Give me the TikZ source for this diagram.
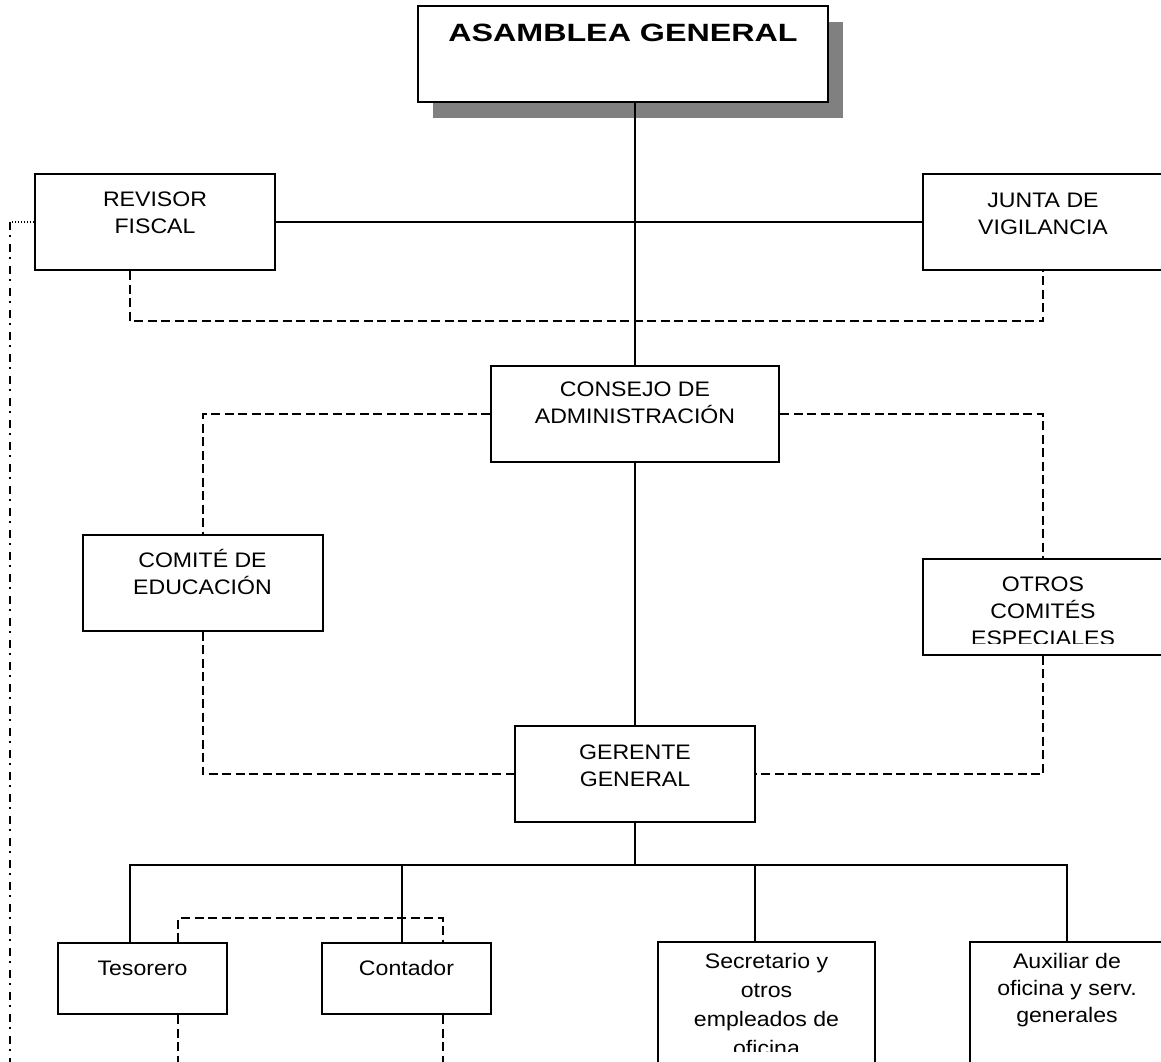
\documentclass[tikz,border=0pt]{standalone}
\usepackage{fontspec}
\setmainfont[FakeStretch=1.1]{Liberation Sans}
\newfontfamily\titlefont[FakeStretch=1.29]{Liberation Sans}
\usetikzlibrary{shadows}

\begin{document}
\begin{tikzpicture}[x=0.5pt,y=-0.5pt,
	org box/.style={draw, line width=1pt, fill=white, inner sep=0pt, minimum width=120pt, minimum height=48pt},
	org text/.style={anchor=base, align=center, inner sep=0pt, font=\fontsize{10.5pt}{13.5pt}\selectfont},
	solid line/.style={line width=1pt},
	dash line/.style={line width=1pt, dash pattern=on 4.5pt off 2.25pt},
	dot line/.style={line width=1pt, dash pattern=on 0.5pt off 1pt},
	dashdot line/.style={line width=1pt, dash pattern=on 4pt off 2.5pt on 1pt off 3.5pt}]
			\clip (0,0) rectangle (1161,1061);
			% Nodes
			\node[org box, minimum width=205pt, drop shadow={shadow xshift=7.5pt, shadow yshift=-8pt, fill=gray, opacity=1}] (asam) at (623,54) {};
			\node[org box] (rev) at (155,222) {};
			\node[org box] (junta) at (1043,222) {};
			\node[org box, minimum width=144pt] (consejo) at (635,414) {};
			\node[org box] (educ) at (202.5,582.5) {};
			\node[org box] (otros) at (1043,606.5) {};
			\node[org box] (gerente) at (635,774) {};
			\node[org box, minimum width=84.5pt, minimum height=35.5pt] (teso) at (142.5,978.5) {};
			\node[org box, minimum width=84.5pt, minimum height=35.5pt] (conta) at (406.5,978.5) {};
			\node[org box, minimum width=108.5pt, minimum height=64pt] (secre) at (766.5,1006) {};
			\node[org box, minimum width=97pt, minimum height=64pt] (aux) at (1067,1006) {};
			
			% Texts (anchored on the last line)
			\node[org text, font=\titlefont\bfseries\fontsize{12.5pt}{15pt}\selectfont] (asamT) at ([yshift=-18pt]asam.north) {ASAMBLEA GENERAL};
			\node[org text] (revT) at ([yshift=-30pt]rev.north) {REVISOR\\FISCAL};
			\node[org text] (juntaT) at ([yshift=-30.5pt]junta.north) {JUNTA DE\\VIGILANCIA};
			\node[org text] (consejoT) at ([yshift=-29pt]consejo.north) {CONSEJO DE\\ADMINISTRACIÓN};
			\node[org text] (educT) at ([yshift=-30.5pt]educ.north) {COMITÉ DE\\EDUCACIÓN};
			\begin{scope}
				\clip (otros.north west) rectangle ([yshift=6pt]otros.south east);
				\node[org text] (otrosT) at ([yshift=-44pt]otros.north) {OTROS\\COMITÉS\\ESPECIALES};
			\end{scope}
			\node[org text] (gerenteT) at ([yshift=-30.5pt]gerente.north) {GERENTE\\GENERAL};
			\node[org text] (tesoT) at ([yshift=-16.5pt]teso.north) {Tesorero};
			\node[org text] (contaT) at ([yshift=-16.5pt]conta.north) {Contador};
			\begin{scope}
				\clip (secre.north west) rectangle ([yshift=10pt]secre.south east);
				\node[org text, font=\fontsize{10.5pt}{14.5pt}\selectfont] (secreT) at ([yshift=-57pt]secre.north) {Secretario y\\otros\\empleados de\\oficina};
			\end{scope}
			\node[org text] (auxT) at ([yshift=-40.5pt]aux.north) {Auxiliar de\\oficina y serv.\\generales};
			
			% Lines
			\draw[solid line] (consejo.north |- asam.south) -- (consejo.north);
			\draw[solid line] (rev.east) -- (junta.west);
			\draw[dash line] ([xshift=-12.5pt]rev.south) -- ++(0,50) -| (junta.south);
			\draw[dash line] (consejo.west) -| (educ.north);
			\draw[dash line] (consejo.east) -| (otros.north);
			\draw[dash line] (educ.south) |- (gerente.west);
			\draw[dash line] (otros.south) |- (gerente.east);
			\draw[solid line] (consejo.south) -- (gerente.north);
			
			\coordinate (bus) at (635,865);
			\draw[solid line] (gerente.south) -- (bus);
			\draw[solid line] ([xshift=-6.25pt]teso.north) |- (aux.north |- bus) -- (aux.north);
			\draw[solid line] ([xshift=-2.25pt]conta.north) -- ([xshift=-2.25pt]conta.north |- bus);
			\draw[solid line] ([xshift=-5.75pt]secre.north) -- ([xshift=-5.75pt]secre.north |- bus);
			\draw[dash line] ([xshift=17.75pt]teso.north) -- ++(0,-24) -| ([xshift=18.25pt]conta.north);
			\draw[dash line] ([xshift=17.75pt]teso.south) -- ++(0,60);
			\draw[dash line] ([xshift=18.25pt]conta.south) -- ++(0,60);
			
			\coordinate (fiscal corner) at (10,222);
			\draw[dot line] (rev.west) -- (fiscal corner);
			\draw[dashdot line] (fiscal corner) -- ++(0,850);
\end{tikzpicture}
\end{document}
